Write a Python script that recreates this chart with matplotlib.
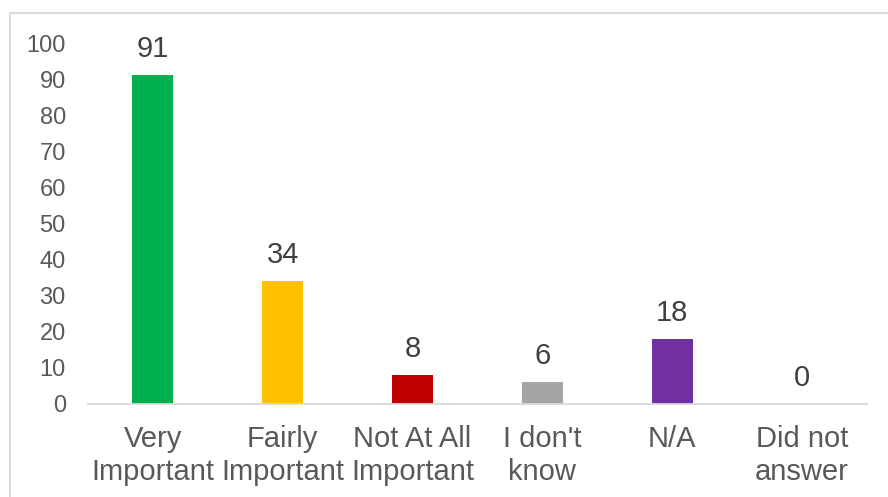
import matplotlib
matplotlib.use('Agg')
import matplotlib.pyplot as plt
from matplotlib.patches import Rectangle

categories = ['Very\nImportant', 'Fairly\nImportant', 'Not At All\nImportant',
              "I don't\nknow", 'N/A', 'Did not\nanswer']
values = [91, 34, 8, 6, 18, 0]
colors = ['#00B050', '#FFC000', '#C00000', '#A5A5A5', '#7030A0', '#A5A5A5']

plt.rcParams['font.family'] = ['Liberation Sans', 'DejaVu Sans']

fig = plt.figure(figsize=(8.88, 4.97), dpi=100)
ax = fig.add_axes([88 / 888, 1 - 404 / 497, 779 / 888, 361 / 497])

x = list(range(len(categories)))
ax.bar(x, values, width=0.315, color=colors)
for xi, v in zip(x, values):
    ax.annotate(str(v), (xi, v), xytext=(0, 9), textcoords='offset points',
                ha='center', va='bottom', fontsize=21, color='#404040')

ax.set_xlim(-0.5, len(categories) - 0.5)
ax.set_ylim(0, 100)
ax.set_yticks(range(0, 101, 10))
ax.set_xticks(x)
ax.set_xticklabels(categories, fontsize=21, color='#595959', linespacing=1.22)
ax.tick_params(axis='y', length=0, pad=16, labelsize=17, labelcolor='#595959')
ax.tick_params(axis='x', length=0, pad=15)
for s in ['top', 'right', 'left']:
    ax.spines[s].set_visible(False)
ax.spines['bottom'].set_color('#D9D9D9')
ax.spines['bottom'].set_linewidth(1.3)

# light grey chart-area border (runs off right and bottom edges)
fig.patches.append(Rectangle((10 / 888, -0.05), 1.0, 1 - 13 / 497 + 0.05,
                             transform=fig.transFigure, fill=False,
                             edgecolor='#D9D9D9', linewidth=1.5))

plt.savefig('out.png', dpi=100)
